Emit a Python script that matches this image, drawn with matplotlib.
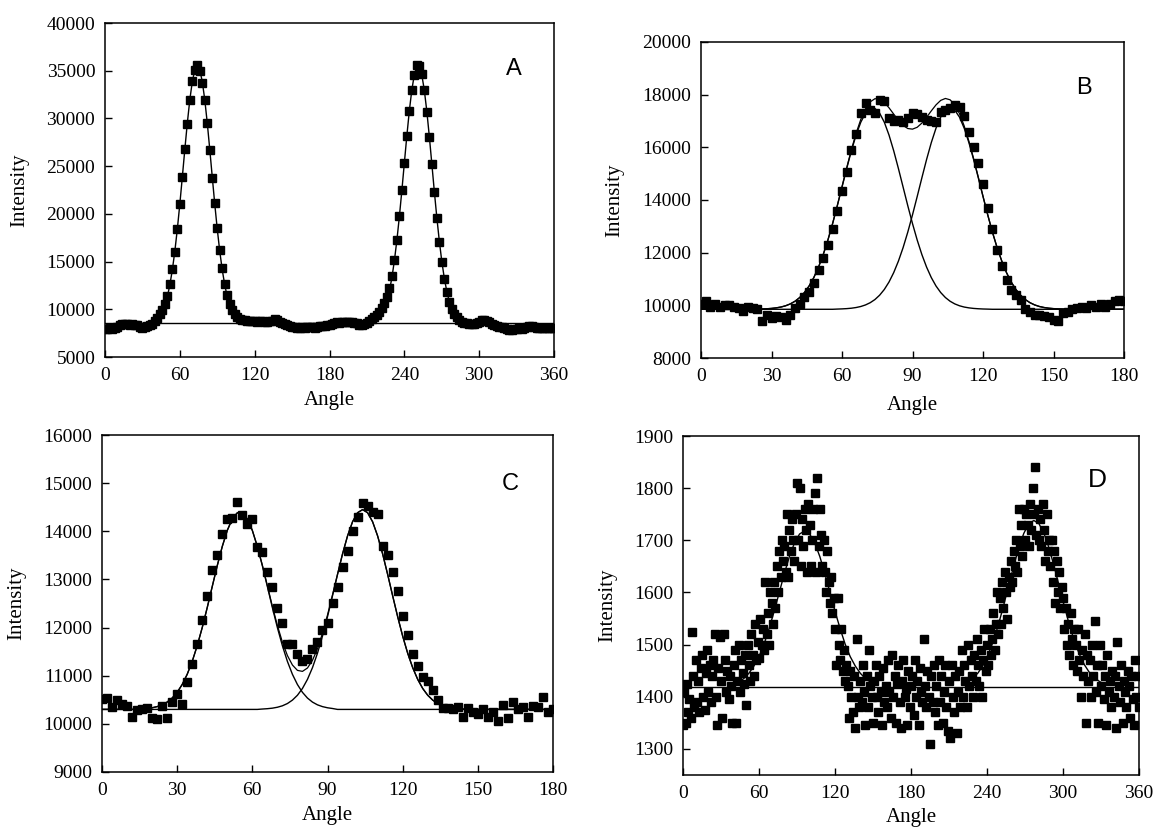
import matplotlib
matplotlib.use("Agg")
import matplotlib.pyplot as plt

plt.rcParams['font.family'] = ['Liberation Serif', 'DejaVu Serif']

# ---------------- Panel A ----------------
a_angle = list(range(0, 361, 2))
a_intensity = [
    7900, 7950, 8000, 7950, 8050, 8100, 8350, 8450, 8500, 8450,
    8400, 8450, 8400, 8350, 8100, 8050, 8150, 8300, 8350, 8450,
    8750, 9100, 9500, 9950, 10550, 11400, 12600, 14200, 16050, 18400,
    21000, 23900, 26800, 29400, 31900, 33900, 35100, 35600, 35000, 33700,
    31900, 29500, 26700, 23800, 21100, 18500, 16200, 14300, 12700, 11500,
    10600, 9950, 9500, 9200, 9000, 8900, 8850, 8800, 8750, 8800,
    8750, 8700, 8750, 8800, 8700, 8700, 8750, 8800, 8950, 8850,
    8700, 8550, 8450, 8350, 8250, 8150, 8100, 8050, 8050, 8100,
    8050, 8100, 8150, 8100, 8050, 8150, 8200, 8250, 8300, 8350,
    8400, 8450, 8600, 8650, 8600, 8650, 8700, 8650, 8700, 8650,
    8600, 8550, 8400, 8350, 8450, 8550, 8750, 8950, 9150, 9400,
    9750, 10150, 10650, 11300, 12200, 13500, 15200, 17300, 19800, 22500,
    25300, 28200, 30800, 33000, 34600, 35600, 35500, 34700, 33000, 30700,
    28100, 25200, 22300, 19600, 17100, 15000, 13200, 11800, 10800, 10050,
    9550, 9150, 8900, 8700, 8600, 8550, 8500, 8450, 8500, 8600,
    8700, 8850, 8850, 8800, 8650, 8500, 8350, 8250, 8150, 8100,
    8000, 7900, 7800, 7800, 7900, 7950, 8000, 7950, 8000, 8100,
    8250, 8200, 8100, 8000, 8050, 8000, 8050, 8000, 8050, 8000,
    8050]
a_fit1_angle = list(range(34, 115, 2))
a_fit1 = [8551, 8595, 8670, 8792, 8989, 9297, 9753, 10414, 11330, 12558,
          14140, 16092, 18412, 21033, 23863, 26752, 29514, 31950, 33861, 35082,
          35500, 35082, 33861, 31950, 29514, 26752, 23863, 21033, 18412, 16092,
          14140, 12558, 11330, 10414, 9753, 9297, 8989, 8792, 8670, 8595, 8551]
a_fit2_angle = list(range(212, 291, 2))
a_fit2 = [8569, 8627, 8723, 8881, 9126, 9502, 10055, 10838, 11905, 13298,
          15066, 17210, 19686, 22427, 25310, 28164, 30786, 32984, 34566, 35395,
          35395, 34566, 32984, 30786, 28164, 25310, 22427, 19686, 17210, 15066,
          13298, 11905, 10838, 10055, 9502, 9126, 8881, 8723, 8627, 8569]
a_baseline = 8530

# ---------------- Panel B ----------------
b_angle = list(range(0, 181, 2))
b_intensity = [
    10050, 10150, 9950, 10050, 9950, 10000, 10000, 9950, 9900, 9800,
    9950, 9900, 9850, 9400, 9650, 9500, 9600, 9550, 9450, 9650,
    9900, 10050, 10300, 10500, 10850, 11350, 11800, 12300, 12900, 13600,
    14350, 15050, 15900, 16500, 17300, 17700, 17400, 17300, 17800, 17750,
    17100, 17000, 17050, 16950, 17100, 17300, 17250, 17150, 17050, 17000,
    16950, 17350, 17400, 17500, 17600, 17550, 17200, 16600, 16000, 15400,
    14600, 13700, 12900, 12100, 11500, 10950, 10600, 10400, 10200, 9850,
    9750, 9650, 9650, 9600, 9550, 9450, 9400, 9700, 9750, 9850,
    9900, 9950, 9900, 10000, 9950, 10050, 9950, 10050, 10150, 10200,
    10150]
b_peak1 = [
    9850, 9850, 9850, 9850, 9850, 9850, 9850, 9850, 9850, 9850,
    9850, 9850, 9856, 9861, 9870, 9883, 9904, 9935, 9983, 10054,
    10155, 10296, 10486, 10735, 11054, 11450, 11925, 12479, 13104, 13781,
    14490, 15197, 15870, 16467, 16955, 17299, 17477, 17477, 17299, 16955,
    16467, 15870, 15197, 14490, 13781, 13104, 12479, 11925, 11450, 11054,
    10735, 10486, 10296, 10155, 10054, 9983, 9935, 9904, 9883, 9870,
    9861, 9856, 9850, 9850, 9850, 9850, 9850, 9850, 9850, 9850,
    9850, 9850, 9850, 9850, 9850, 9850, 9850, 9850, 9850, 9850,
    9850, 9850, 9850, 9850, 9850, 9850, 9850, 9850, 9850, 9850,
    9850]
b_peak2 = [
    9850, 9850, 9850, 9850, 9850, 9850, 9850, 9850, 9850, 9850,
    9850, 9850, 9850, 9850, 9850, 9850, 9850, 9850, 9850, 9850,
    9850, 9850, 9850, 9850, 9850, 9850, 9850, 9850, 9850, 9858,
    9865, 9875, 9891, 9917, 9956, 10015, 10100, 10219, 10384, 10602,
    10885, 11242, 11678, 12192, 12783, 13437, 14133, 14846, 15541, 16180,
    16727, 17147, 17410, 17500, 17410, 17147, 16727, 16180, 15541, 14846,
    14133, 13437, 12783, 12192, 11678, 11242, 10885, 10602, 10384, 10219,
    10100, 10015, 9956, 9917, 9891, 9875, 9865, 9858, 9850, 9850,
    9850, 9850, 9850, 9850, 9850, 9850, 9850, 9850, 9850, 9850,
    9850]
b_baseline = 9850

# ---------------- Panel C ----------------
c_angle = list(range(0, 181, 2))
c_intensity = [
    10520, 10540, 10350, 10500, 10420, 10380, 10150, 10280, 10300, 10320,
    10120, 10100, 10380, 10120, 10450, 10620, 10420, 10870, 11250, 11650,
    12150, 12650, 13200, 13500, 13950, 14250, 14270, 14600, 14330, 14150,
    14250, 13680, 13580, 13150, 12850, 12400, 12100, 11650, 11650, 11450,
    11300, 11350, 11550, 11700, 11950, 12100, 12500, 12850, 13250, 13600,
    14000, 14300, 14580, 14520, 14400, 14350, 13700, 13500, 13150, 12750,
    12250, 11850, 11450, 11200, 10980, 10900, 10700, 10500, 10330, 10320,
    10300, 10350, 10150, 10320, 10250, 10200, 10300, 10150, 10250, 10050,
    10400, 10120, 10450, 10300, 10350, 10150, 10380, 10360, 10550, 10250,
    10300]
c_peak1 = [
    10300, 10300, 10300, 10300, 10300, 10300, 10300, 10300, 10300, 10319,
    10334, 10358, 10395, 10452, 10536, 10655, 10817, 11029, 11297, 11623,
    11999, 12415, 12853, 13286, 13684, 14018, 14258, 14384, 14384, 14258,
    14018, 13684, 13286, 12853, 12415, 11999, 11623, 11297, 11029, 10817,
    10655, 10536, 10452, 10395, 10358, 10334, 10319, 10300, 10300, 10300,
    10300, 10300, 10300, 10300, 10300, 10300, 10300, 10300, 10300, 10300,
    10300, 10300, 10300, 10300, 10300, 10300, 10300, 10300, 10300, 10300,
    10300, 10300, 10300, 10300, 10300, 10300, 10300, 10300, 10300, 10300,
    10300, 10300, 10300, 10300, 10300, 10300, 10300, 10300, 10300, 10300,
    10300]
c_peak2 = [
    10300, 10300, 10300, 10300, 10300, 10300, 10300, 10300, 10300, 10300,
    10300, 10300, 10300, 10300, 10300, 10300, 10300, 10300, 10300, 10300,
    10300, 10300, 10300, 10300, 10300, 10300, 10300, 10300, 10300, 10300,
    10300, 10300, 10308, 10315, 10326, 10345, 10375, 10422, 10493, 10594,
    10735, 10924, 11167, 11467, 11823, 12226, 12661, 13105, 13530, 13904,
    14198, 14386, 14450, 14386, 14198, 13904, 13530, 13105, 12661, 12226,
    11823, 11467, 11167, 10924, 10735, 10594, 10493, 10422, 10375, 10345,
    10326, 10315, 10308, 10300, 10300, 10300, 10300, 10300, 10300, 10300,
    10300, 10300, 10300, 10300, 10300, 10300, 10300, 10300, 10300, 10300,
    10300]
c_baseline = 10300

# ---------------- Panel D ----------------
d_angle = list(range(0, 361))
d_intensity = [
    1345, 1410, 1350, 1425, 1370, 1395, 1360, 1525, 1440, 1380,
    1470, 1390, 1430, 1370, 1455, 1480, 1400, 1375, 1445, 1490,
    1410, 1460, 1390, 1440, 1470, 1520, 1400, 1345, 1455, 1515,
    1430, 1360, 1520, 1470, 1410, 1450, 1395, 1440, 1420, 1350,
    1460, 1490, 1350, 1430, 1500, 1410, 1470, 1445, 1425, 1480,
    1385, 1500, 1460, 1430, 1520, 1480, 1440, 1540, 1470, 1505,
    1475, 1550, 1500, 1530, 1490, 1620, 1520, 1560, 1500, 1600,
    1580, 1540, 1620, 1570, 1650, 1600, 1680, 1630, 1700, 1660,
    1690, 1640, 1750, 1630, 1720, 1680, 1740, 1700, 1660, 1750,
    1810, 1700, 1800, 1650, 1740, 1690, 1760, 1720, 1640, 1770,
    1730, 1650, 1700, 1760, 1790, 1640, 1820, 1690, 1760, 1710,
    1650, 1700, 1640, 1600, 1680, 1620, 1580, 1630, 1560, 1590,
    1530, 1460, 1590, 1500, 1470, 1530, 1450, 1490, 1430, 1460,
    1420, 1360, 1450, 1400, 1370, 1440, 1340, 1510, 1400, 1380,
    1430, 1390, 1460, 1410, 1345, 1440, 1380, 1490, 1420, 1400,
    1350, 1430, 1460, 1400, 1370, 1440, 1410, 1345, 1455, 1390,
    1420, 1380, 1470, 1410, 1360, 1480, 1400, 1440, 1350, 1425,
    1460, 1390, 1340, 1430, 1470, 1400, 1415, 1345, 1450, 1380,
    1420, 1440, 1365, 1470, 1400, 1430, 1345, 1455, 1410, 1390,
    1510, 1420, 1380, 1450, 1400, 1310, 1440, 1390, 1460, 1370,
    1420, 1345, 1470, 1390, 1440, 1350, 1410, 1460, 1380, 1335,
    1430, 1320, 1460, 1400, 1370, 1440, 1330, 1410, 1450, 1380,
    1490, 1400, 1460, 1430, 1380, 1500, 1420, 1470, 1440, 1400,
    1480, 1430, 1510, 1460, 1420, 1490, 1400, 1470, 1530, 1450,
    1500, 1460, 1530, 1480, 1510, 1560, 1490, 1540, 1600, 1520,
    1590, 1540, 1620, 1570, 1640, 1600, 1550, 1630, 1610, 1660,
    1620, 1680, 1650, 1700, 1640, 1760, 1690, 1730, 1670, 1760,
    1700, 1750, 1730, 1690, 1770, 1720, 1800, 1750, 1840, 1710,
    1760, 1700, 1740, 1690, 1770, 1720, 1660, 1750, 1680, 1700,
    1650, 1700, 1620, 1680, 1580, 1660, 1600, 1640, 1570, 1610,
    1590, 1530, 1570, 1500, 1540, 1480, 1560, 1510, 1460, 1530,
    1500, 1450, 1530, 1470, 1400, 1490, 1440, 1520, 1350, 1480,
    1430, 1470, 1400, 1500, 1440, 1545, 1410, 1460, 1350, 1500,
    1420, 1460, 1395, 1440, 1345, 1480, 1410, 1430, 1380, 1450,
    1400, 1440, 1340, 1505, 1420, 1390, 1460, 1350, 1430, 1410,
    1380, 1450, 1420, 1360, 1440, 1395, 1345, 1470, 1400, 1440,
    1380]
d_fit1_angle = list(range(40, 153, 4))
d_fit1 = [1424, 1428, 1435, 1445, 1459, 1477, 1501, 1531, 1564, 1600,
          1636, 1669, 1695, 1712, 1718, 1712, 1695, 1669, 1636, 1600,
          1564, 1531, 1501, 1477, 1459, 1445, 1435, 1428, 1424]
d_fit2_angle = list(range(221, 334, 4))
d_fit2 = [1424, 1429, 1436, 1446, 1461, 1481, 1507, 1538, 1574, 1612,
          1650, 1685, 1713, 1732, 1738, 1732, 1713, 1685, 1650, 1612,
          1574, 1538, 1507, 1481, 1461, 1446, 1436, 1429, 1424]
d_baseline = 1418

# ---------------- Figure ----------------
fig = plt.figure(figsize=(11.56, 8.30), dpi=100)
W, H = 1156.0, 830.0


def make_axes(l, t, r, b):
    return fig.add_axes([l / W, 1 - b / H, (r - l) / W, (b - t) / H])


def style(ax, xlim, xticks, ylim, yticks, letter, lpos, lsize, ylab_px, xlab_px):
    ax.set_xlim(*xlim)
    ax.set_ylim(*ylim)
    ax.set_xticks(xticks)
    ax.set_yticks(yticks)
    ax.tick_params(direction='in', length=5, width=1.0, labelsize=14,
                   top=False, right=False, pad=7, colors='black')
    for s in ax.spines.values():
        s.set_linewidth(1.1)
        s.set_color('black')
    bb = ax.get_position()
    wpx = bb.width * W
    hpx = bb.height * H
    ax.set_xlabel('Angle', fontsize=15, va='center')
    ax.set_ylabel('Intensity', fontsize=15, va='center')
    ax.xaxis.set_label_coords(0.5, -xlab_px / hpx)
    ax.yaxis.set_label_coords(-ylab_px / wpx, 0.5)
    ax.text(lpos[0], lpos[1], letter, transform=ax.transAxes, fontsize=lsize,
            family=['Liberation Sans', 'DejaVu Sans'], ha='center', va='center')


# A
axA = make_axes(105, 23, 554, 357)
axA.plot(a_angle, a_intensity, 's', color='black', ms=6, mec='black')
axA.axhline(a_baseline, color='black', lw=1.0)
axA.plot(a_fit1_angle, a_fit1, color='black', lw=1.0)
axA.plot(a_fit2_angle, a_fit2, color='black', lw=1.0)
style(axA, (0, 360), range(0, 361, 60), (5000, 40000), range(5000, 40001, 5000),
      'A', (0.911, 0.861), 17, 85, 43)

# B
axB = make_axes(701, 42, 1124, 358)
axB.plot(b_angle, b_intensity, 's', color='black', ms=6, mec='black')
b_sum = [p1 + p2 - b_baseline for p1, p2 in zip(b_peak1, b_peak2)]
axB.plot(b_angle, b_peak1, color='black', lw=1.0)
axB.plot(b_angle, b_peak2, color='black', lw=1.0)
axB.plot(b_angle, b_sum, color='black', lw=0.9)
style(axB, (0, 180), range(0, 181, 30), (8000, 20000), range(8000, 20001, 2000),
      'B', (0.905, 0.854), 17, 86, 47)

# C
axC = make_axes(102, 435, 553, 772)
axC.plot(c_angle, c_intensity, 's', color='black', ms=5.5, mec='black')
c_sum = [p1 + p2 - c_baseline for p1, p2 in zip(c_peak1, c_peak2)]
axC.plot(c_angle, c_peak1, color='black', lw=1.0)
axC.plot(c_angle, c_peak2, color='black', lw=1.0)
axC.plot(c_angle, c_sum, color='black', lw=0.9)
style(axC, (0, 180), range(0, 181, 30), (9000, 16000), range(9000, 16001, 1000),
      'C', (0.905, 0.856), 17, 85, 43)

# D
axD = make_axes(683, 436, 1139, 775)
axD.plot(d_angle, d_intensity, 's', color='black', ms=6, mec='black')
axD.axhline(d_baseline, color='black', lw=1.0)
axD.plot(d_fit1_angle, d_fit1, color='black', lw=1.0)
axD.plot(d_fit2_angle, d_fit2, color='black', lw=1.0)
style(axD, (0, 360), range(0, 361, 60), (1250, 1900), range(1300, 1901, 100),
      'D', (0.908, 0.870), 19, 75, 42)

fig.savefig('out.png', dpi=100, facecolor='white')
